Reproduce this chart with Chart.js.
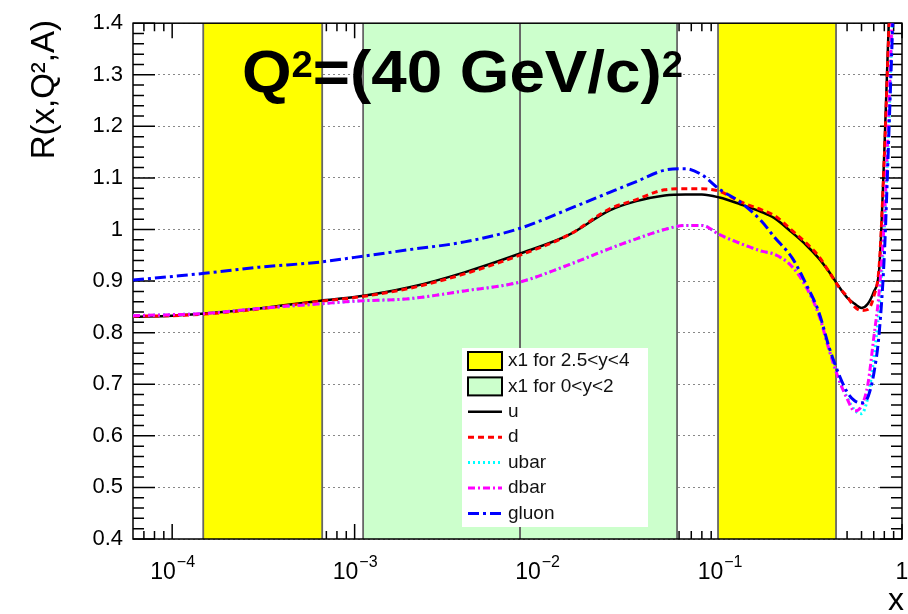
<!DOCTYPE html>
<html>
<head>
<meta charset="utf-8">
<script src="https://cdn.jsdelivr.net/npm/chart.js@4.4.0/dist/chart.umd.min.js"></script>
<style>
  html, body { margin: 0; padding: 0; background: #fff; }
  canvas { display: block; }
</style>
</head>
<body>
<canvas id="ratio" width="908" height="614"></canvas>
<script>
const FONT = '"Liberation Sans", Arial, Helvetica, sans-serif';

// common x grid for all the ratio curves
const xValues = [6.1e-5, 1e-4, 1.5e-4, 3e-4, 6.5e-4, 1e-3, 2e-3, 4e-3, 8e-3, 0.015, 0.025, 0.035, 0.05, 0.065, 0.08,
  0.1, 0.13, 0.17, 0.2, 0.25, 0.3, 0.35, 0.4, 0.45, 0.5, 0.55, 0.6, 0.65, 0.7, 0.75, 0.8, 0.85, 0.9];

const uRatio = [0.831, 0.833, 0.837, 0.847, 0.862, 0.869, 0.888, 0.917, 0.953, 0.990, 1.037, 1.055, 1.066, 1.068, 1.068,
  1.062, 1.049, 1.034, 1.022, 0.994, 0.969, 0.944, 0.917, 0.890, 0.868, 0.856, 0.848, 0.856, 0.879, 0.923, 1.15, 1.42, 1.6];
const dRatio = [0.832, 0.833, 0.836, 0.846, 0.861, 0.868, 0.886, 0.914, 0.950, 0.990, 1.040, 1.058, 1.077, 1.079, 1.079,
  1.074, 1.054, 1.038, 1.027, 0.998, 0.973, 0.948, 0.917, 0.889, 0.870, 0.850, 0.843, 0.845, 0.870, 0.93, 1.14, 1.40, 1.6];
const ubarRatio = [0.833, 0.835, 0.837, 0.847, 0.856, 0.861, 0.866, 0.881, 0.898, 0.932, 0.963, 0.982, 1.0, 1.008, 1.008,
  0.99, 0.973, 0.958, 0.952, 0.928, 0.887, 0.835, 0.765, 0.71, 0.675, 0.650, 0.643, 0.675, 0.75, 0.85, 1.0, 1.22, 1.5];
const dbarRatio = [0.833, 0.835, 0.837, 0.847, 0.856, 0.861, 0.866, 0.881, 0.898, 0.932, 0.963, 0.982, 1.0, 1.008, 1.008,
  0.99, 0.973, 0.958, 0.952, 0.928, 0.887, 0.835, 0.765, 0.71, 0.672, 0.648, 0.658, 0.70, 0.79, 0.88, 1.02, 1.25, 1.5];
const gluonRatio = [0.902, 0.909, 0.915, 0.927, 0.937, 0.946, 0.961, 0.976, 1.002, 1.040, 1.072, 1.093, 1.115, 1.118, 1.106,
  1.078, 1.053, 1.016, 0.985, 0.945, 0.892, 0.84, 0.77, 0.72, 0.685, 0.668, 0.664, 0.675, 0.72, 0.8, 0.95, 1.2, 1.45];

// x1 coverage bands
const yellowBands = [[1.48e-4, 6.64e-4], [0.0981, 0.435]];
const greenBands = [[1.113e-3, 8.07e-3], [8.07e-3, 0.0585]];

const xMin = 6.1e-5, xMax = 1;
const yMin = 0.4, yMax = 1.4;
const xDecades = [1e-4, 1e-3, 1e-2, 1e-1, 1];
const xDecadeExp = ['\u22124', '\u22123', '\u22122', '\u22121', ''];
const bandLabels = ['x1 for 2.5<y<4', 'x1 for 0<y<2'];

const series = [
  {label: 'u', values: uRatio, color: '#000000', dash: [], width: 2.5},
  {label: 'd', values: dRatio, color: '#ff0000', dash: [6, 4], width: 3},
  {label: 'ubar', values: ubarRatio, color: '#00ffff', dash: [2, 3], width: 3},
  {label: 'dbar', values: dbarRatio, color: '#ff00ff', dash: [7, 3, 2, 3], width: 3},
  {label: 'gluon', values: gluonRatio, color: '#0000ff', dash: [11, 4, 3, 4], width: 3}
];

// ticks, shaded x1 ranges and the frame go under the curves
const framePlugin = {
  id: 'rootFrame',
  beforeDatasetsDraw(chart) {
    const {ctx, chartArea: a, scales: {x, y}} = chart;
    ctx.save();

    ctx.strokeStyle = '#000';
    ctx.lineWidth = 1.5;
    ctx.beginPath();
    for (let i = 0; i <= 50; i++) {
      const py = y.getPixelForValue(yMin + i * 0.02);
      const len = i % 5 === 0 ? 22 : 11;
      ctx.moveTo(a.left, py); ctx.lineTo(a.left + len, py);
      ctx.moveTo(a.right, py); ctx.lineTo(a.right - len, py);
    }
    for (let e = -5; e <= 0; e++) {
      for (let m = 1; m <= 9; m++) {
        const v = m * Math.pow(10, e);
        if (v < xMin || v > xMax * 1.0001) continue;
        const px = x.getPixelForValue(v);
        const len = m === 1 ? 15 : 8;
        ctx.moveTo(px, a.bottom); ctx.lineTo(px, a.bottom - len);
        ctx.moveTo(px, a.top); ctx.lineTo(px, a.top + len);
      }
    }
    ctx.stroke();

    const top = y.getPixelForValue(yMax), bottom = y.getPixelForValue(yMin);
    const drawBand = (band, fill) => {
      const x0 = x.getPixelForValue(band[0]), x1 = x.getPixelForValue(band[1]);
      ctx.fillStyle = fill;
      ctx.fillRect(x0, top, x1 - x0, bottom - top);
      ctx.strokeStyle = '#666';
      ctx.lineWidth = 1.8;
      ctx.beginPath();
      ctx.moveTo(x0, top); ctx.lineTo(x0, bottom);
      ctx.moveTo(x1, top); ctx.lineTo(x1, bottom);
      ctx.stroke();
    };
    yellowBands.forEach(b => drawBand(b, '#ffff00'));
    greenBands.forEach(b => drawBand(b, '#ccffcc'));

    ctx.strokeStyle = '#000';
    ctx.lineWidth = 1.5;
    ctx.strokeRect(a.left, a.top, a.right - a.left, a.bottom - a.top);
    ctx.restore();
  }
};

const labelPlugin = {
  id: 'rootLabels',
  afterDraw(chart) {
    const {ctx, scales: {x}} = chart;
    ctx.save();
    ctx.fillStyle = '#000';
    ctx.textBaseline = 'alphabetic';

    // log axis labels 10^n
    xDecades.forEach((v, i) => {
      const px = x.getPixelForValue(v);
      const exp = xDecadeExp[i];
      if (!exp) {
        ctx.font = '23px ' + FONT;
        ctx.textAlign = 'center';
        ctx.fillText('1', px, 579);
        return;
      }
      ctx.textAlign = 'left';
      ctx.font = '23px ' + FONT;
      const wBase = ctx.measureText('10').width;
      ctx.font = '16px ' + FONT;
      const wExp = ctx.measureText(exp).width;
      const x0 = px - (wBase + wExp) / 2;
      ctx.font = '23px ' + FONT;
      ctx.fillText('10', x0, 579);
      ctx.font = '16px ' + FONT;
      ctx.fillText(exp, x0 + wBase + 1, 567);
    });

    // axis titles
    ctx.font = '32px ' + FONT;
    ctx.textAlign = 'right';
    ctx.fillText('x', 904, 610);
    ctx.save();
    ctx.translate(54, 20);
    ctx.rotate(-Math.PI / 2);
    ctx.textAlign = 'right';
    ctx.font = '33px ' + FONT;
    ctx.fillText('R(x,Q\u00b2,A)', 0, 0);
    ctx.restore();

    // Q^2 header
    const big = 'bold 60px ' + FONT, sup = 'bold 36px ' + FONT;
    const parts = [['Q', big, 0], ['2', sup, -15], ['=(40 GeV/c)', big, 0], ['2', sup, -15]];
    let total = 0;
    const widths = parts.map(p => { ctx.font = p[1]; const w = ctx.measureText(p[0]).width; total += w; return w; });
    ctx.save();
    ctx.translate(242, 92);
    ctx.scale(441 / total, 1);
    ctx.textAlign = 'left';
    let cx = 0;
    parts.forEach((p, i) => {
      ctx.font = p[1];
      ctx.fillText(p[0], cx, p[2]);
      cx += widths[i];
    });
    ctx.restore();

    // legend
    const lx = 462, ly = 348;
    ctx.fillStyle = '#fff';
    ctx.fillRect(lx, ly, 186, 179);
    const rowY = i => 361 + i * 25.4;
    ctx.lineWidth = 2;
    ctx.strokeStyle = '#000';
    [['#ffff00', bandLabels[0]], ['#ccffcc', bandLabels[1]]].forEach((b, i) => {
      ctx.fillStyle = b[0];
      ctx.fillRect(468, rowY(i) - 9, 34, 18);
      ctx.strokeRect(468, rowY(i) - 9, 34, 18);
    });
    series.forEach((s, i) => {
      const yy = rowY(i + 2);
      ctx.strokeStyle = s.color;
      ctx.lineWidth = s.width;
      ctx.setLineDash(s.dash);
      ctx.beginPath();
      ctx.moveTo(468, yy); ctx.lineTo(502, yy);
      ctx.stroke();
    });
    ctx.setLineDash([]);
    ctx.fillStyle = '#111';
    ctx.font = '19px ' + FONT;
    ctx.textAlign = 'left';
    ctx.textBaseline = 'middle';
    bandLabels.concat(series.map(s => s.label)).forEach((t, i) => {
      ctx.fillText(t, 508, rowY(i));
    });
    ctx.restore();
  }
};

const datasets = series.map((s, i) => ({
  label: s.label,
  data: xValues.map((xv, j) => ({x: xv, y: s.values[j]})),
  borderColor: s.color,
  borderWidth: s.width,
  borderDash: s.dash,
  pointRadius: 0,
  fill: false,
  cubicInterpolationMode: 'monotone',
  order: series.length - i
}));

new Chart(document.getElementById('ratio'), {
  type: 'line',
  data: {datasets},
  plugins: [framePlugin, labelPlugin],
  options: {
    responsive: false,
    animation: false,
    devicePixelRatio: 1,
    layout: {padding: {left: 0, top: 15, right: 6, bottom: 0}},
    plugins: {legend: {display: false}, tooltip: {enabled: false}},
    scales: {
      x: {
        type: 'logarithmic',
        min: xMin,
        max: xMax,
        grid: {display: false},
        border: {display: false},
        ticks: {display: false},
        afterFit(scale) { scale.height = 75; }
      },
      y: {
        min: yMin,
        max: yMax,
        grid: {color: '#888', lineWidth: 1, drawTicks: false},
        border: {display: false, dash: [2, 3]},
        ticks: {
          stepSize: 0.1,
          padding: 10,
          color: '#000',
          font: {family: FONT, size: 22},
          callback: v => String(Number(v.toFixed(1)))
        },
        afterFit(scale) { scale.width = 133; }
      }
    }
  }
});
</script>
</body>
</html>
